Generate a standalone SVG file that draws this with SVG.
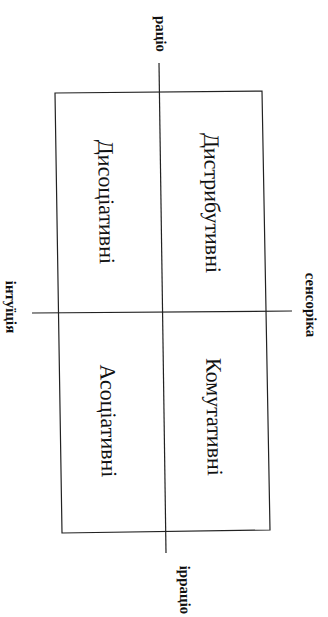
<svg xmlns="http://www.w3.org/2000/svg" width="328" height="617" viewBox="0 0 328 617">
<style>
.ln{stroke:#222;stroke-width:1.2;fill:none}
.t{font-family:"Liberation Serif","DejaVu Serif",serif;fill:#111}
.ax{font-size:15px;font-weight:bold}
.q{font-size:22px}
</style>
<rect width="328" height="617" fill="#fff"/>
<g id="connectors">
<polygon class="ln" points="55,93 262,91 270,530 62,533"/>
<line class="ln" x1="159" y1="63" x2="166" y2="553"/>
<line class="ln" x1="32" y1="313" x2="292" y2="311"/>
</g>
<g id="ratio"><text class="t ax" text-anchor="middle" transform="translate(156,34) rotate(89.2)">раціо</text></g>
<g id="irratio"><text class="t ax" text-anchor="middle" transform="translate(180,590) rotate(89.2)">ірраціо</text></g>
<g id="intuition"><text class="t ax" text-anchor="middle" transform="translate(6,307) rotate(89.2)">інтуїція</text></g>
<g id="sensorics"><text class="t ax" text-anchor="middle" transform="translate(306,305) rotate(89.2)">сенсоріка</text></g>
<g id="dysotsiatyvni"><text class="t q" text-anchor="middle" transform="translate(99,202) rotate(89.2)">Дисоціативні</text></g>
<g id="dystrybutyvni"><text class="t q" text-anchor="middle" transform="translate(205,203) rotate(89.2)">Дистрибутивні</text></g>
<g id="asotsiatyvni"><text class="t q" text-anchor="middle" transform="translate(101,421) rotate(89.2)">Асоціативні</text></g>
<g id="komutatyvni"><text class="t q" text-anchor="middle" transform="translate(207,417) rotate(89.2)">Комутативні</text></g>
</svg>
